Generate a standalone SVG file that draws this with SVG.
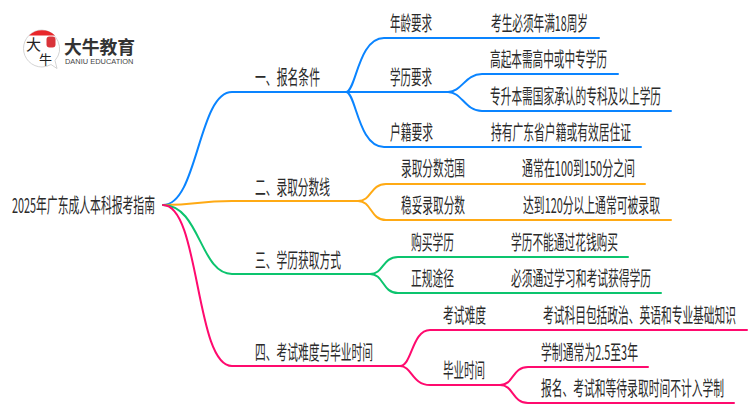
<svg xmlns="http://www.w3.org/2000/svg" width="750" height="410" viewBox="0 0 750 410">
<style>
text{font-family:"Noto Sans CJK SC","Liberation Sans",sans-serif;font-size:20px;fill:#2a2a2a}
.c{fill:none;stroke-width:2;stroke-linecap:round}
.b{stroke:#0a84ff}.o{stroke:#ffaa14}.g{stroke:#0cc46e}.p{stroke:#ff0a6e}
</style>
<rect width="750" height="410" fill="#fff"/>
<g id="connectors">
<path class="c b" d="M163 205C198 205 198 92 232 92H346"/>
<path class="c b" d="M346 92C356 92 358 38 384 38H599"/>
<path class="c b" d="M346 92C356 92 358 147 384 147H641"/>
<path class="c b" d="M346 92H448"/>
<path class="c b" d="M448 92C462 92 465 74 482 74H618"/>
<path class="c b" d="M448 92C462 92 465 111 482 111H671"/>
<path class="c o" d="M163 205C200 205 195 201 232 201H358"/>
<path class="c o" d="M358 201C372 201 370 184 386 184H645"/>
<path class="c o" d="M358 201C372 201 370 220 386 220H671"/>
<path class="c g" d="M163 205C200 205 200 274 232 274H370"/>
<path class="c g" d="M370 274C384 274 382 257 398 257H628"/>
<path class="c g" d="M370 274C384 274 382 293 398 293H661"/>
<path class="c p" d="M163 205C200 205 195 366 232 366H400"/>
<path class="c p" d="M400 366C412 366 412 330 430 330H747"/>
<path class="c p" d="M400 366C412 366 412 385 430 385H500"/>
<path class="c p" d="M500 385C514 385 512 367 528 367H648"/>
<path class="c p" d="M500 385C514 385 512 403 528 403H734"/>
</g>
<g id="logo">
<path d="M42 30A18.500 18.500 0 1 0 42 67A18.500 18.500 0 0 0 51 64.500L57 68.500L55 60.500A18.500 18.500 0 0 0 42 30Z" fill="#fff" stroke="#c9c9c9" stroke-width="0.800"/>
<path d="M29 35.500A18.500 18.500 0 0 1 55 35.500Z" fill="#e8262a"/>
<rect x="46.500" y="36.500" width="9" height="11" rx="3" fill="#d9343a"/>
<text x="26" y="50" style="font-size:15px;fill:#222">大</text>
<text x="39" y="63.500" style="font-size:13px;fill:#222">牛</text>
<text x="64" y="54" textLength="71" lengthAdjust="spacingAndGlyphs" style="font-size:18px;font-weight:700;fill:#333">大牛教育</text>
<text x="65" y="63.500" textLength="68.500" lengthAdjust="spacingAndGlyphs" style="font-family:'Liberation Sans',sans-serif;font-size:7px;fill:#444">DANIU EDUCATION</text>
</g>
<g id="root"><text transform="translate(12 213) scale(.54 1)" textLength="264.800" lengthAdjust="spacingAndGlyphs">2025年广东成人本科报考指南</text></g>
<g id="n1"><text transform="translate(255 85) scale(.54 1)" textLength="120.400" lengthAdjust="spacingAndGlyphs">一、报名条件</text></g>
<g id="n11"><text transform="translate(390 31) scale(.54 1)" textLength="77.800" lengthAdjust="spacingAndGlyphs">年龄要求</text></g>
<g id="n111"><text transform="translate(491 31) scale(.54 1)" textLength="179.600" lengthAdjust="spacingAndGlyphs">考生必须年满18周岁</text></g>
<g id="n12"><text transform="translate(390 85) scale(.54 1)" textLength="77.800" lengthAdjust="spacingAndGlyphs">学历要求</text></g>
<g id="n121"><text transform="translate(490 67) scale(.54 1)" textLength="216.700" lengthAdjust="spacingAndGlyphs">高起本需高中或中专学历</text></g>
<g id="n122"><text transform="translate(490 104) scale(.54 1)" textLength="316.700" lengthAdjust="spacingAndGlyphs">专升本需国家承认的专科及以上学历</text></g>
<g id="n13"><text transform="translate(390 140) scale(.54 1)" textLength="79.600" lengthAdjust="spacingAndGlyphs">户籍要求</text></g>
<g id="n131"><text transform="translate(491 140) scale(.54 1)" textLength="259.300" lengthAdjust="spacingAndGlyphs">持有广东省户籍或有效居住证</text></g>
<g id="n2"><text transform="translate(255 195) scale(.54 1)" textLength="138.900" lengthAdjust="spacingAndGlyphs">二、录取分数线</text></g>
<g id="n21"><text transform="translate(401 176) scale(.54 1)" textLength="118.500" lengthAdjust="spacingAndGlyphs">录取分数范围</text></g>
<g id="n211"><text transform="translate(522 176) scale(.54 1)" textLength="209.300" lengthAdjust="spacingAndGlyphs">通常在100到150分之间</text></g>
<g id="n22"><text transform="translate(401 213) scale(.54 1)" textLength="118.500" lengthAdjust="spacingAndGlyphs">稳妥录取分数</text></g>
<g id="n221"><text transform="translate(523 213) scale(.54 1)" textLength="253.700" lengthAdjust="spacingAndGlyphs">达到120分以上通常可被录取</text></g>
<g id="n3"><text transform="translate(255 268) scale(.54 1)" textLength="159.300" lengthAdjust="spacingAndGlyphs">三、学历获取方式</text></g>
<g id="n31"><text transform="translate(411 250) scale(.54 1)" textLength="79.600" lengthAdjust="spacingAndGlyphs">购买学历</text></g>
<g id="n311"><text transform="translate(511 250) scale(.54 1)" textLength="198.100" lengthAdjust="spacingAndGlyphs">学历不能通过花钱购买</text></g>
<g id="n32"><text transform="translate(411 286) scale(.54 1)" textLength="79.600" lengthAdjust="spacingAndGlyphs">正规途径</text></g>
<g id="n321"><text transform="translate(511 286) scale(.54 1)" textLength="259.300" lengthAdjust="spacingAndGlyphs">必须通过学习和考试获得学历</text></g>
<g id="n4"><text transform="translate(255 360) scale(.54 1)" textLength="218.500" lengthAdjust="spacingAndGlyphs">四、考试难度与毕业时间</text></g>
<g id="n41"><text transform="translate(443 323) scale(.54 1)" textLength="79.600" lengthAdjust="spacingAndGlyphs">考试难度</text></g>
<g id="n411"><text transform="translate(543 323) scale(.54 1)" textLength="357.400" lengthAdjust="spacingAndGlyphs">考试科目包括政治、英语和专业基础知识</text></g>
<g id="n42"><text transform="translate(443 378) scale(.54 1)" textLength="77.800" lengthAdjust="spacingAndGlyphs">毕业时间</text></g>
<g id="n421"><text transform="translate(541 360) scale(.54 1)" textLength="179.600" lengthAdjust="spacingAndGlyphs">学制通常为2.5至3年</text></g>
<g id="n422"><text transform="translate(541 396) scale(.54 1)" textLength="338.900" lengthAdjust="spacingAndGlyphs">报名、考试和等待录取时间不计入学制</text></g>
</svg>
